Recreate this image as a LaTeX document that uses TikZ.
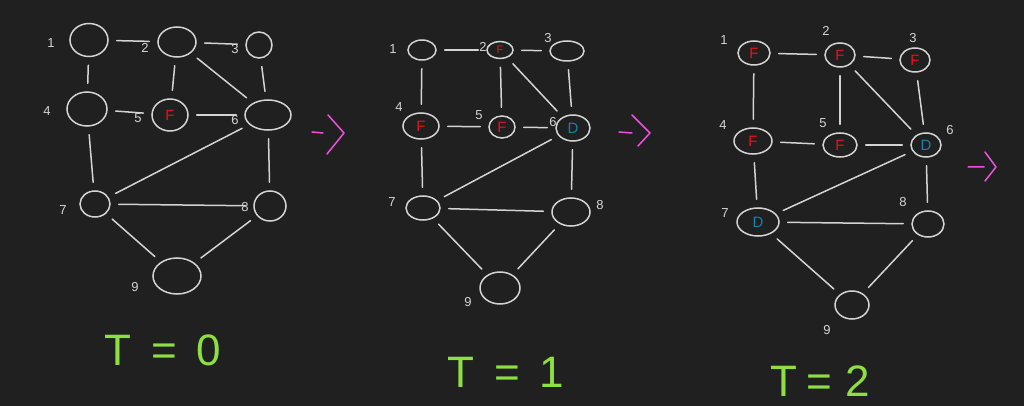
\documentclass[tikz,border=0pt]{standalone}
\usepackage{fontspec}
\setmainfont{Liberation Sans}
\usepackage{tikz}
\usetikzlibrary{shapes.geometric}

\definecolor{lavagna}{HTML}{202020}
\definecolor{gesso}{HTML}{D4D4D4}
\definecolor{rosso}{HTML}{E8121E}
\definecolor{blu}{HTML}{1A80A8}
\definecolor{lime}{HTML}{8EE040}
\definecolor{fucsia}{HTML}{F050E0}

\tikzset{
	nodo/.style={ellipse, draw=gesso, line width=1.5pt, inner sep=0pt, minimum width=34pt, minimum height=26pt},
	arco/.style={draw=gesso, line width=1.5pt, line cap=round, shorten >=8pt, shorten <=8pt},
	num/.style={text=gesso, font=\fontsize{13}{13}\selectfont},
	fuoco/.style={text=rosso, font=\fontsize{15}{15}\selectfont},
	difesa/.style={text=blu, font=\fontsize{15}{15}\selectfont},
	tempo/.style={text=lime, font=\fontsize{44}{44}\selectfont},
	passo/.style={draw=fucsia, line width=1.5pt, line cap=round, line join=round}
}

\begin{document}
\begin{tikzpicture}[x=1pt, y=-1pt]
		\fill[lavagna] (0,0) rectangle (1024,406);
		\useasboundingbox (0,0) rectangle (1024,406);

		% Nodi T = 0
		\node[nodo, minimum width=38pt, minimum height=33pt] (a1) at (89,40) {};
		\node[nodo, minimum width=38pt, minimum height=30pt] (a2) at (177,42) {};
		\node[nodo, minimum width=26pt, minimum height=26pt] (a3) at (259,45) {};
		\node[nodo, minimum width=40pt, minimum height=34pt] (a4) at (87,109) {};
		\node[nodo, minimum width=36pt, minimum height=32pt, fuoco] (a5) at (170,115) {F};
		\node[nodo, minimum width=46pt, minimum height=30pt] (a6) at (268,115) {};
		\node[nodo, minimum width=30pt, minimum height=26pt] (a7) at (95,204) {};
		\node[nodo, minimum width=32pt, minimum height=30pt] (a8) at (270,206) {};
		\node[nodo, minimum width=48pt, minimum height=36pt] (a9) at (177,276) {};

		\node[num] (na1) at (51,43) {1};
		\node[num] (na2) at (145,48) {2};
		\node[num] (na3) at (235,49) {3};
		\node[num] (na4) at (47,111) {4};
		\node[num] (na5) at (138,118) {5};
		\node[num] (na6) at (235,120) {6};
		\node[num] (na7) at (63,210) {7};
		\node[num] (na8) at (245,207) {8};
		\node[num] (na9) at (135,287) {9};

		% Nodi T = 1
		\node[nodo, minimum width=28pt, minimum height=20pt] (b1) at (422,50) {};
		\node[nodo, minimum width=26pt, minimum height=17pt, fuoco, font=\fontsize{11}{11}\selectfont] (b2) at (500,50) {F};
		\node[nodo, minimum width=34pt, minimum height=20pt] (b3) at (567,51) {};
		\node[nodo, minimum width=36pt, minimum height=26pt, fuoco] (b4) at (421,126) {F};
		\node[nodo, minimum width=26pt, minimum height=22pt, fuoco] (b5) at (502,127) {F};
		\node[nodo, minimum width=34pt, minimum height=26pt, difesa] (b6) at (573,128) {D};
		\node[nodo, minimum width=34pt, minimum height=24pt] (b7) at (423,208) {};
		\node[nodo, minimum width=38pt, minimum height=28pt] (b8) at (571,212) {};
		\node[nodo, minimum width=40pt, minimum height=32pt] (b9) at (500,288) {};

		\node[num] (nb1) at (393,49) {1};
		\node[num] (nb2) at (483,47) {2};
		\node[num] (nb3) at (548,38) {3};
		\node[num] (nb4) at (399,107) {4};
		\node[num] (nb5) at (479,115) {5};
		\node[num] (nb6) at (553,122) {6};
		\node[num] (nb7) at (392,202) {7};
		\node[num] (nb8) at (600,205) {8};
		\node[num] (nb9) at (468,302) {9};

		% Nodi T = 2
		\node[nodo, minimum width=32pt, minimum height=24pt, fuoco] (c1) at (754,53) {F};
		\node[nodo, minimum width=30pt, minimum height=24pt, fuoco] (c2) at (840,55) {F};
		\node[nodo, minimum width=30pt, minimum height=24pt, fuoco] (c3) at (915,60) {F};
		\node[nodo, minimum width=38pt, minimum height=26pt, fuoco] (c4) at (753,141) {F};
		\node[nodo, minimum width=34pt, minimum height=24pt, fuoco] (c5) at (840,145) {F};
		\node[nodo, minimum width=30pt, minimum height=24pt, difesa] (c6) at (926,145) {D};
		\node[nodo, minimum width=42pt, minimum height=28pt, difesa] (c7) at (758,222) {D};
		\node[nodo, minimum width=32pt, minimum height=26pt] (c8) at (928,224) {};
		\node[nodo, minimum width=34pt, minimum height=28pt] (c9) at (852,305) {};

		\node[num] (nc1) at (724,40) {1};
		\node[num] (nc2) at (826,31) {2};
		\node[num] (nc3) at (913,38) {3};
		\node[num] (nc4) at (723,125) {4};
		\node[num] (nc5) at (823,123) {5};
		\node[num] (nc6) at (950,130) {6};
		\node[num] (nc7) at (725,213) {7};
		\node[num] (nc8) at (903,202) {8};
		\node[num] (nc9) at (827,330) {9};

		% Collegamenti T = 0
		\draw[arco] (a1) -- (a2);
		\draw[arco] (a2) -- (a3);
		\draw[arco] (a1) -- (a4);
		\draw[arco] (a2) -- (a5);
		\draw[arco] (a2) -- (a6);
		\draw[arco] (a3) -- (a6);
		\draw[arco] (a4) -- (a5);
		\draw[arco] (a5) -- (a6);
		\draw[arco] (a4) -- (a7);
		\draw[arco] (a6) -- (a7);
		\draw[arco] (a6) -- (a8);
		\draw[arco] (a7) -- (a8);
		\draw[arco] (a7) -- (a9);
		\draw[arco] (a8) -- (a9);

		% Collegamenti T = 1
		\draw[arco] (b1) -- (b2);
		\draw[arco] (b2) -- (b3);
		\draw[arco] (b1) -- (b4);
		\draw[arco] (b2) -- (b5);
		\draw[arco] (b2) -- (b6);
		\draw[arco] (b3) -- (b6);
		\draw[arco] (b4) -- (b5);
		\draw[arco] (b5) -- (b6);
		\draw[arco] (b4) -- (b7);
		\draw[arco] (b6) -- (b7);
		\draw[arco] (b6) -- (b8);
		\draw[arco] (b7) -- (b8);
		\draw[arco] (b7) -- (b9);
		\draw[arco] (b8) -- (b9);

		% Collegamenti T = 2
		\draw[arco] (c1) -- (c2);
		\draw[arco] (c2) -- (c3);
		\draw[arco] (c1) -- (c4);
		\draw[arco] (c2) -- (c5);
		\draw[arco] (c2) -- (c6);
		\draw[arco] (c3) -- (c6);
		\draw[arco] (c4) -- (c5);
		\draw[arco] (c5) -- (c6);
		\draw[arco] (c4) -- (c7);
		\draw[arco] (c6) -- (c7);
		\draw[arco] (c6) -- (c8);
		\draw[arco] (c7) -- (c8);
		\draw[arco] (c7) -- (c9);
		\draw[arco] (c8) -- (c9);

		% Frecce tra gli istanti
		\draw[passo] (312,132) -- (323,133) (328,115) -- (344,133) -- (327,154);
		\draw[passo] (619,132) -- (632,133) (632,115) -- (650,133) -- (638,146);
		\draw[passo] (968,167) -- (984,167) (985,152) -- (996,167) -- (985,181);

		% Istanti
		\node[tempo] (t0) at (163,350) {T\hspace{0.45em}=\hspace{0.45em}0};
		\node[tempo] (t1) at (506,372) {T\hspace{0.45em}=\hspace{0.45em}1};
		\node[tempo] (t2) at (820,381) {T\hspace{0.2em}=\hspace{0.3em}2};
	\end{tikzpicture}
\end{document}
